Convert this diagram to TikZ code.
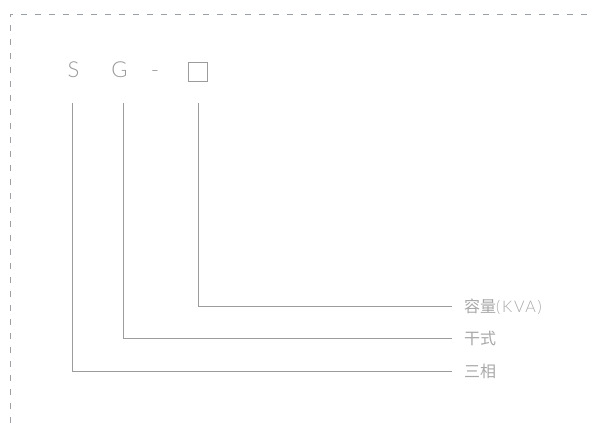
\documentclass[tikz,border=0pt]{standalone}
\usepackage{fontspec}
\setmainfont{Lato}[UprightFont=* Light]
\newfontfamily\cjk{Noto Sans CJK SC}
\newfontfamily\latsp{Lato}[UprightFont=* Light,LetterSpace=11]
\definecolor{bordergray}{HTML}{9AA0A8}
\definecolor{linegray}{HTML}{9C9C9C}
\definecolor{textgray}{HTML}{999999}
\definecolor{labgray}{HTML}{A8A8A8}
\tikzset{
  border/.style={draw=bordergray,line width=1pt,dash pattern=on 6pt off 8pt},
  conn/.style={draw=linegray,line width=1pt},
  code/.style={text=textgray,font=\fontsize{22}{22}\selectfont,inner sep=0pt,anchor=base},
  lab/.style={text=labgray,font=\cjk\fontsize{16}{17}\selectfont,anchor=west,inner xsep=12pt,inner ysep=0pt}
}
\begin{document}
\begin{tikzpicture}[x=1pt,y=-1pt]
\useasboundingbox (0,0) rectangle (590,423);
\draw[border] (10,423) -- (10,14) -- (590,14);
\node[code] (S) at (73.5,77) {S};
\node[code] (G) at (119.5,77) {G};
\node[code] (dash) at (155,77) {-};
\node[draw=linegray,line width=1pt,minimum width=19pt,minimum height=19pt,inner sep=0pt] (box) at (197.5,72) {};
\coordinate (s0) at (72,103);
\coordinate (g0) at (123,103);
\coordinate (b0) at (198,103);
\node[lab] (cap) at (452,306.5) {容量{\latsp\fontsize{16}{17}\selectfont(KVA)}};
\node[lab] (dry) at (452,338) {干式};
\node[lab] (tri) at (452,371) {三相};
\draw[conn] (b0) |- (cap.west);
\draw[conn] (g0) |- (dry.west);
\draw[conn] (s0) |- (tri.west);
\end{tikzpicture}
\end{document}
